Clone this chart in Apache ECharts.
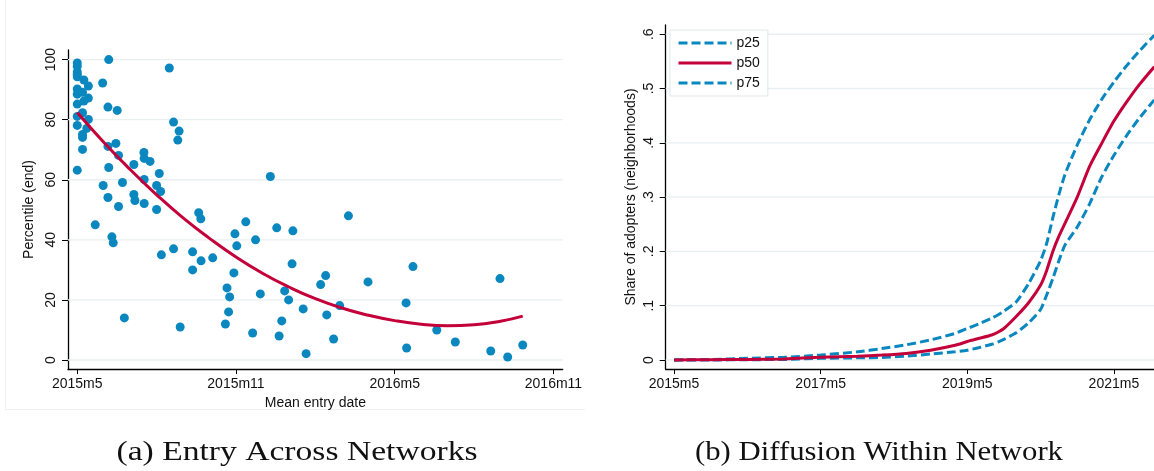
<!DOCTYPE html>
<html><head><meta charset="utf-8">
<script src="https://cdn.jsdelivr.net/npm/echarts@6/dist/echarts.min.js"></script>
<style>html,body{margin:0;padding:0;background:#fff}#c{width:1154px;height:471px}</style>
</head><body><div id="c"></div>
<script>
// ---------- Panel (a): Entry Across Networks ----------
// x = months since 2015m5, y = percentile (end)
const entryMonth = [0,0,0,0,0,0,0,0,0,0,0,
  0.25,0.42,0.2,0.42,0.25,0.2,0.42,0.36,0.2,0.2,0.2,
  0.96,1.19,1.16,1.51,1.16,1.46,1.56,1.19,0.98,1.16,1.56,1.71,
  2.14,2.14,2.18,2.52,2.53,2.75,2.53,2.53,3.0,3.1,3.15,3.0,
  3.48,3.64,3.85,3.8,4.59,4.67,6.37,7.3,7.54,8.15,
  0.68,1.31,1.36,1.78,3.18,3.64,3.89,4.36,4.36,4.68,5.12,5.66,5.76,5.72,5.6,5.92,5.96,6.03,6.74,6.92,6.63,
  8.12,7.84,7.99,7.73,7.63,10.25,9.39,9.2,10.99,12.69,12.43,15.98,8.54,9.92,9.43,8.65,9.69,12.45,13.59,14.29,15.63,16.27,16.84];
const percentile = [98.9,97.8,95.9,95.1,94.3,90.2,88.5,85.2,81.1,78.1,63.2,
  93.2,91.2,89.1,87.2,86.2,82.3,80.1,77.1,75.1,74.1,70.1,
  92.2,100,84.2,83.1,71.1,72.1,68.1,64.1,58.1,54.1,51.1,59.1,
  65.1,55.1,53.1,69.1,67.1,66.1,60.1,52.1,58.1,62.1,56.1,50.1,
  97.2,79.2,76.2,73.2,49.0,47.0,46.0,61.1,44.0,43.0,
  45.0,41.0,39.0,14.0,35.0,37.0,11.0,36.0,30.0,33.0,34.0,24.0,21.0,16.0,12.0,29.0,42.0,38.0,40.0,22.0,9.0,
  32.0,23.0,20.0,13.0,8.0,48.0,28.1,25.1,26.0,31.1,19.0,27.1,17.0,18.1,15.0,2.1,7.0,4.0,10.0,6.0,3.0,1.0,5.0];
const fitMonth = [0,1,2,3,4,5,6,7,8,9,10,11,12,13,14,15,16,16.84];
const fitValue = [82.4,72.5,63.4,55.0,47.3,40.5,34.3,28.9,24.3,20.4,17.3,14.9,13.1,11.9,11.4,11.7,12.9,14.6];
const leftXTicks = [0,6,12,18];
const leftXLabels = ['2015m5','2015m11','2016m5','2016m11'];
const leftYTicks = [0,20,40,60,80,100];

// ---------- Panel (b): Diffusion Within Network ----------
const diffMonth = [0,6,12,18,24,30,34,38,42,46,48,50,52,53,54,56,58,60,61,62,63,64,66,68,70,72,74,76,78.6];
const p25 = [0,0.001,0.003,0.005,0.009,0.015,0.021,0.028,0.037,0.049,0.058,0.067,0.077,0.083,0.090,0.107,0.140,0.183,0.215,0.262,0.305,0.342,0.396,0.442,0.480,0.512,0.541,0.567,0.598];
const p50 = [0,0.0005,0.001,0.002,0.005,0.007,0.009,0.012,0.018,0.027,0.034,0.040,0.046,0.051,0.058,0.080,0.105,0.138,0.165,0.200,0.228,0.252,0.300,0.356,0.399,0.440,0.474,0.505,0.540];
const p75 = [0,0,0.0005,0.001,0.003,0.004,0.0045,0.007,0.011,0.015,0.018,0.023,0.029,0.033,0.038,0.050,0.068,0.093,0.120,0.150,0.183,0.212,0.245,0.287,0.337,0.377,0.412,0.443,0.479];
const rightXTicks = [0,24,48,72];
const rightXLabels = ['2015m5','2017m5','2019m5','2021m5'];
const rightYTicks = [0,0.1,0.2,0.3,0.4,0.5,0.6];
const rightYLabels = ['0','.1','.2','.3','.4','.5','.6'];

const BLUE = '#0a87bf', RED = '#c3003a', GRID = '#e8f0f2';
const FONT = 'Liberation Sans';

function lookup(vals, labels){
  return function(v){
    for (let i=0;i<vals.length;i++) if (Math.abs(vals[i]-v) < 1e-9) return labels[i];
    return '';
  };
}
function zip(a,b){ return a.map((x,i)=>[x,b[i]]); }

const L = {xmin:-0.35, xmax:18.35, ymin:-3.0, ymax:103.2};
const R = {xmin:-1.36, xmax:78.56, ymin:-0.0166, ymax:0.617};

function axisBase(extra){
  return Object.assign({
    type:'value',
    axisLine:{show:true,onZero:false,lineStyle:{color:'#000',width:1.3}},
    axisTick:{show:true,length:5,lineStyle:{color:'#000',width:1}},
    splitLine:{show:false},
    nameTextStyle:{fontFamily:FONT,fontSize:14,color:'#111'}
  }, extra);
}

const series = [];
leftYTicks.forEach(v => series.push({
  type:'line', xAxisIndex:0, yAxisIndex:0, data:[[L.xmin,v],[L.xmax,v]],
  symbol:'none', silent:true, z:1, lineStyle:{color:GRID,width:1.3}
}));
rightYTicks.forEach(v => series.push({
  type:'line', xAxisIndex:1, yAxisIndex:1, data:[[R.xmin,v],[R.xmax,v]],
  symbol:'none', silent:true, z:1, lineStyle:{color:GRID,width:1.3}
}));
series.push({
  type:'scatter', name:'networks', xAxisIndex:0, yAxisIndex:0,
  data: zip(entryMonth, percentile), symbolSize:9, z:3,
  itemStyle:{color:BLUE, opacity:1}
});
series.push({
  type:'line', name:'fit', xAxisIndex:0, yAxisIndex:0,
  data: zip(fitMonth, fitValue), smooth:true, symbol:'none', z:4,
  lineStyle:{color:RED,width:3}
});
series.push({
  type:'line', name:'p25', xAxisIndex:1, yAxisIndex:1,
  data: zip(diffMonth, p25), smooth:0.2, symbol:'none', z:3,
  itemStyle:{color:BLUE}, lineStyle:{color:BLUE,width:3,type:[9,4]}
});
series.push({
  type:'line', name:'p50', xAxisIndex:1, yAxisIndex:1,
  data: zip(diffMonth, p50), smooth:0.2, symbol:'none', z:4,
  itemStyle:{color:RED}, lineStyle:{color:RED,width:3}
});
series.push({
  type:'line', name:'p75', xAxisIndex:1, yAxisIndex:1,
  data: zip(diffMonth, p75), smooth:0.2, symbol:'none', z:3,
  itemStyle:{color:BLUE}, lineStyle:{color:BLUE,width:3,type:[9,4]}
});

// caption width fitting
const cv = document.createElement('canvas').getContext('2d');
function capScale(text, size, target){
  cv.font = size + 'px "Liberation Serif"';
  return target / cv.measureText(text).width;
}
const capA = '(a) Entry Across Networks', capB = '(b) Diffusion Within Network';

const chart = echarts.init(document.getElementById('c'), null, {renderer:'canvas'});
chart.setOption({
  animation:false,
  backgroundColor:'#fff',
  grid:[
    {left:68, top:50, width:494.7, height:319},
    {left:665.7, top:25, width:488.3, height:344}
  ],
  xAxis:[
    axisBase({gridIndex:0, min:L.xmin, max:L.xmax,
      name:'Mean entry date', nameLocation:'middle', nameGap:24,
      axisTick:{show:true,length:5,customValues:leftXTicks,lineStyle:{color:'#000'}},
      axisLabel:{customValues:leftXTicks, formatter:lookup(leftXTicks,leftXLabels), margin:8, fontFamily:FONT, fontSize:14, color:'#111'}}),
    axisBase({gridIndex:1, min:R.xmin, max:R.xmax,
      axisTick:{show:true,length:5,customValues:rightXTicks,lineStyle:{color:'#000'}},
      axisLabel:{customValues:rightXTicks, formatter:lookup(rightXTicks,rightXLabels), margin:8, fontFamily:FONT, fontSize:14, color:'#111'}})
  ],
  yAxis:[
    axisBase({gridIndex:0, min:L.ymin, max:L.ymax,
      name:'Percentile (end)', nameLocation:'middle', nameGap:32, nameRotate:90,
      axisTick:{show:true,length:6,customValues:leftYTicks,lineStyle:{color:'#000'}},
      axisLabel:{customValues:leftYTicks, rotate:90, margin:10, fontFamily:FONT, fontSize:14, color:'#111'}}),
    axisBase({gridIndex:1, min:R.ymin, max:R.ymax,
      name:'Share of adopters (neighborhoods)', nameLocation:'middle', nameGap:28, nameRotate:90,
      axisTick:{show:true,length:6,customValues:rightYTicks,lineStyle:{color:'#000'}},
      axisLabel:{customValues:rightYTicks, formatter:lookup(rightYTicks,rightYLabels), rotate:90, margin:10, fontFamily:FONT, fontSize:14, color:'#111'}})
  ],
  legend:{
    data:['p25','p50','p75'], orient:'vertical', left:670, top:30,
    itemWidth:53, itemHeight:14, itemGap:6, padding:[6,8,6,7],
    backgroundColor:'#fff', borderColor:'#dfe7e9', borderWidth:1,
    itemStyle:{opacity:0},
    lineStyle:{width:3},
    textStyle:{fontFamily:FONT, fontSize:14, color:'#111'}
  },
  graphic:[
    {type:'polyline', silent:true, shape:{points:[[5.5,0],[5.5,409.5],[585,409.5]]}, style:{stroke:'#f0f0f0',fill:null,lineWidth:1}},
    {type:'text', x:297, y:453, scaleX:capScale(capA,27,361), style:{text:capA, font:'27px "Liberation Serif"', fill:'#111', align:'center', verticalAlign:'middle'}},
    {type:'text', x:879, y:453, scaleX:capScale(capB,27,368), style:{text:capB, font:'27px "Liberation Serif"', fill:'#111', align:'center', verticalAlign:'middle'}}
  ],
  series: series
});
</script>
</body></html>
